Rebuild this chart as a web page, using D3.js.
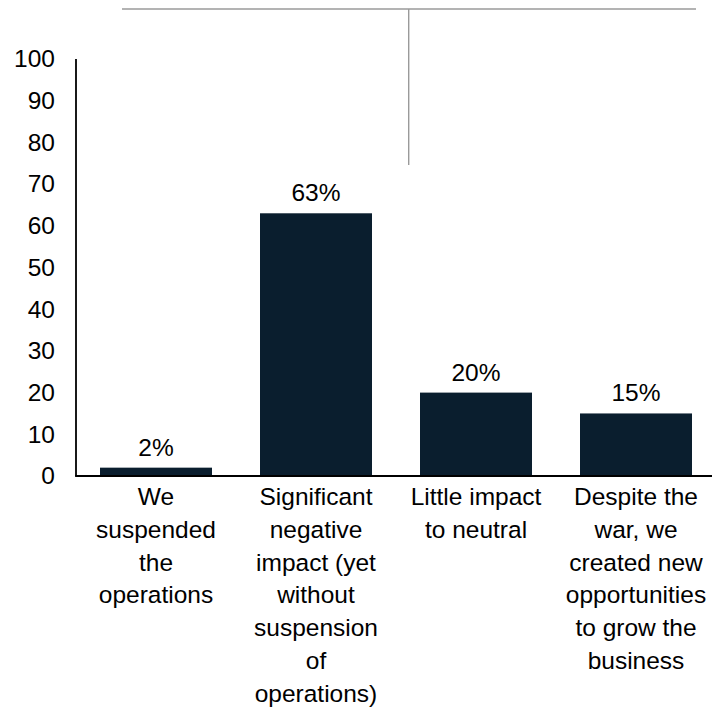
<!DOCTYPE html>
<html>
<head>
<meta charset="utf-8">
<script src="https://cdn.jsdelivr.net/npm/d3@7"></script>
<style>
  html, body { margin: 0; padding: 0; background: #fff; }
  svg { display: block; }
  text { font-family: "Liberation Sans", Arial, sans-serif; fill: #000; }
</style>
</head>
<body>
<script>
// Survey responses: impact of the war on the business (% of respondents)
const categories = [
  ["We", "suspended", "the", "operations"],
  ["Significant", "negative", "impact (yet", "without", "suspension", "of", "operations)"],
  ["Little impact", "to neutral"],
  ["Despite the", "war, we", "created new", "opportunities", "to grow the", "business"]
];
const values = [2, 63, 20, 15];
const valueLabels = ["2%", "63%", "20%", "15%"];
const yTicks = [0, 10, 20, 30, 40, 50, 60, 70, 80, 90, 100];

const W = 712, H = 708;
const margin = { left: 76, right: 0, top: 59, bottom: 232 };
const baseY = H - margin.bottom;
const FS = "24.5px";

const svg = d3.select("body").append("svg")
  .attr("width", W).attr("height", H);

const x = d3.scaleBand()
  .domain(d3.range(values.length))
  .range([margin.left, W - margin.right + 4])
  .paddingInner(0.3)
  .paddingOuter(0.15);

const y = d3.scaleLinear()
  .domain([0, 100])
  .range([baseY, margin.top]);

// Decorative connector lines above the plot
const deco = svg.append("g").attr("stroke", "#9a9a9a").attr("stroke-width", 1.4);
deco.append("line").attr("x1", 122).attr("x2", 696).attr("y1", 9).attr("y2", 9);
deco.append("line").attr("x1", 408.7).attr("x2", 408.7).attr("y1", 9).attr("y2", 165);

// Bars
svg.append("g").selectAll("rect")
  .data(values)
  .join("rect")
  .attr("x", (d, i) => x(i))
  .attr("width", x.bandwidth())
  .attr("y", d => y(d))
  .attr("height", d => baseY - y(d))
  .attr("fill", "#0a1e2e");

// Value labels
svg.append("g").selectAll("text")
  .data(values)
  .join("text")
  .attr("x", (d, i) => x(i) + x.bandwidth() / 2)
  .attr("y", d => y(d) - 12)
  .attr("text-anchor", "middle")
  .style("font-size", FS)
  .text((d, i) => valueLabels[i]);

// Y axis
const yAxis = svg.append("g")
  .attr("transform", `translate(${margin.left},0)`)
  .call(d3.axisLeft(y).tickValues(yTicks).tickSize(0).tickPadding(21).tickFormat(d3.format("d")));
yAxis.select(".domain").remove();
yAxis.selectAll("text")
  .style("font-size", FS)
  .style("font-family", "'Liberation Sans', Arial, sans-serif")
  .attr("fill", "#000");

svg.append("line")
  .attr("x1", margin.left).attr("x2", margin.left)
  .attr("y1", y(100)).attr("y2", baseY)
  .attr("stroke", "#000").attr("stroke-width", 1.8);

// X baseline
svg.append("line")
  .attr("x1", margin.left - 0.9).attr("x2", W)
  .attr("y1", baseY).attr("y2", baseY)
  .attr("stroke", "#000").attr("stroke-width", 1.8);

// Category labels (multi-line)
const catG = svg.append("g");
categories.forEach((lines, i) => {
  const t = catG.append("text")
    .attr("x", x(i) + x.bandwidth() / 2)
    .attr("y", baseY + 29)
    .attr("text-anchor", "middle")
    .style("font-size", FS);
  lines.forEach((ln, j) => {
    t.append("tspan")
      .attr("x", x(i) + x.bandwidth() / 2)
      .attr("dy", j === 0 ? 0 : 32.8)
      .text(ln);
  });
});
</script>
</body>
</html>
